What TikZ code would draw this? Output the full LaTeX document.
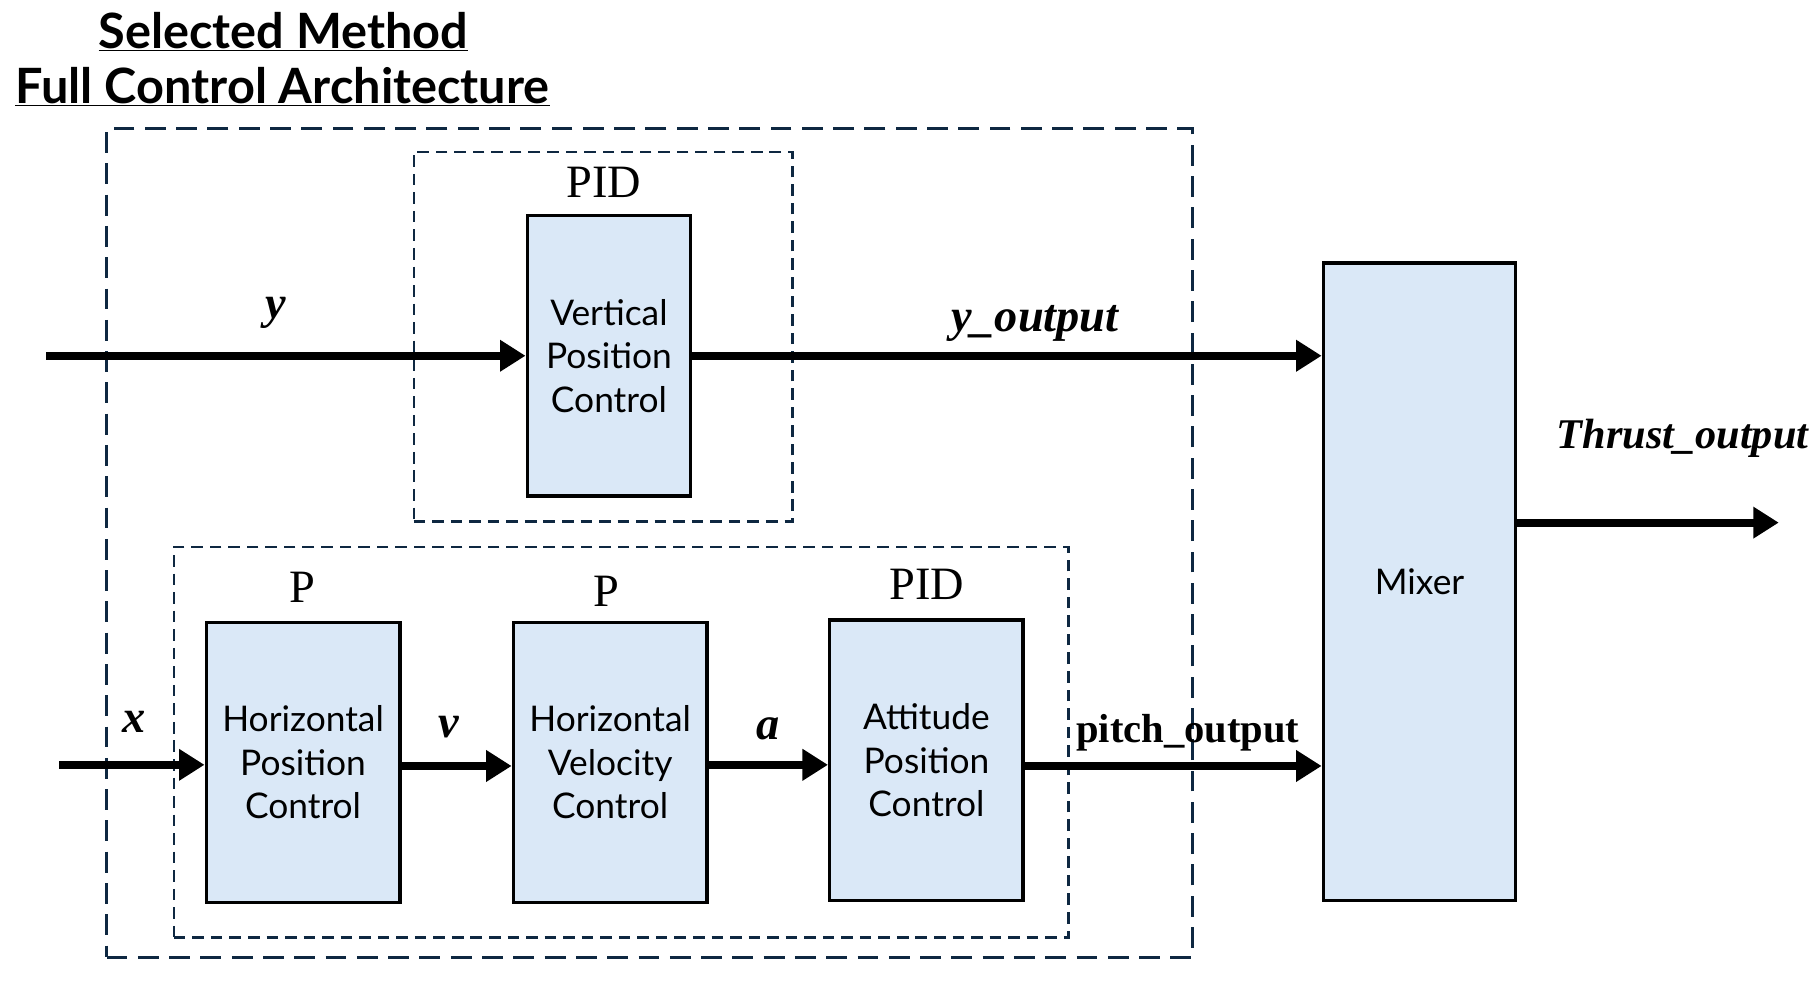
\documentclass[tikz,border=0pt]{standalone}
\usepackage{fontspec}
\setmainfont{Liberation Serif}
\setsansfont{Lato}
\usetikzlibrary{arrows.meta}
\definecolor{boxfill}{RGB}{218,232,247}
\definecolor{navy}{RGB}{14,40,65}
\begin{document}
\begin{tikzpicture}[x=1pt,y=-1pt,
  block/.style={draw=black,line width=3pt,fill=boxfill,minimum width=167pt,minimum height=242pt,inner sep=0pt,font=\sffamily\fontsize{30.5}{37.5}\selectfont,align=center},
  group/.style={draw=navy,line width=2pt,dash pattern=on 10pt off 6pt,inner sep=0pt},
  outer/.style={draw=navy,line width=2.5pt,dash pattern=on 18pt off 9pt,inner sep=0pt},
  sig/.style={line width=7pt,-{Triangle[length=22pt,width=26pt]}},
  gain/.style={font=\fontsize{40}{48}\selectfont,anchor=base,inner sep=0pt},
  var/.style={font=\bfseries\itshape\fontsize{40}{48}\selectfont,anchor=base,inner sep=0pt},
  title/.style={font=\sffamily\bfseries\fontsize{42}{50}\selectfont,anchor=base west,inner sep=0pt},
]
\useasboundingbox (0,0) rectangle (1568,847);
% titles
\node[title] (t1) at (85,42) {\underline{Selected Method}};
\node[title] (t2) at (13,89) {\underline{Full Control Architecture}};
% groups
\node[outer,minimum width=937pt,minimum height=715pt] (outerbox) at (560.5,468.5) {};
\node[group,minimum width=327pt,minimum height=319pt] (topgroup) at (520.5,290.5) {};
\node[group,minimum width=772pt,minimum height=337pt] (botgroup) at (536,640.5) {};
% blocks
\node[block,minimum width=141pt] (vpc) at (525.5,307) {Vertical\\Position\\Control};
\node[block] (hpc) at (261.5,658) {Horizontal\\Position\\Control};
\node[block] (hvc) at (526.5,658) {Horizontal\\Velocity\\Control};
\node[block] (apc) at (799.5,656) {Attitude\\Position\\Control};
\node[block,minimum width=166pt,minimum height=550pt] (mixer) at (1225,502) {Mixer};
% controller types
\node[gain] (g1) at (521,170) {PID};
\node[gain] (g2) at (261,520) {P};
\node[gain] (g3) at (523,523) {P};
\node[gain] (g4) at (800,517) {PID};
% connectors
\coordinate (yin) at (40,307);
\coordinate (xin) at (51,660);
\coordinate (row) at (0,661);
\coordinate (thr) at (1535,451);
\draw[sig] (yin) -- (vpc.west);
\draw[sig] (vpc.east) -- (vpc.east -| mixer.west);
\draw[sig] (xin) -- (xin -| hpc.west);
\draw[sig] (hpc.east |- row) -- (hvc.west |- row);
\draw[sig] (hvc.east |- xin) -- (apc.west |- xin);
\draw[sig] (apc.east |- row) -- (mixer.west |- row);
\draw[sig] (mixer.east |- thr) -- (thr);
% signal labels
\node[var] (ly) at (238,275) {y};
\node[var] (lyo) at (893,286) {y\_output};
\node[var,font=\bfseries\itshape\fontsize{36.5}{44}\selectfont] (lth) at (1452,387) {Thrust\_output};
\node[var] (lx) at (116,632) {x};
\node[var] (lv) at (387,636) {v};
\node[var] (la) at (663,638) {a};
\node[font=\bfseries\fontsize{35}{42}\selectfont,anchor=base,inner sep=0pt] (lpo) at (1025,641) {pitch\_output};
\end{tikzpicture}
\end{document}
